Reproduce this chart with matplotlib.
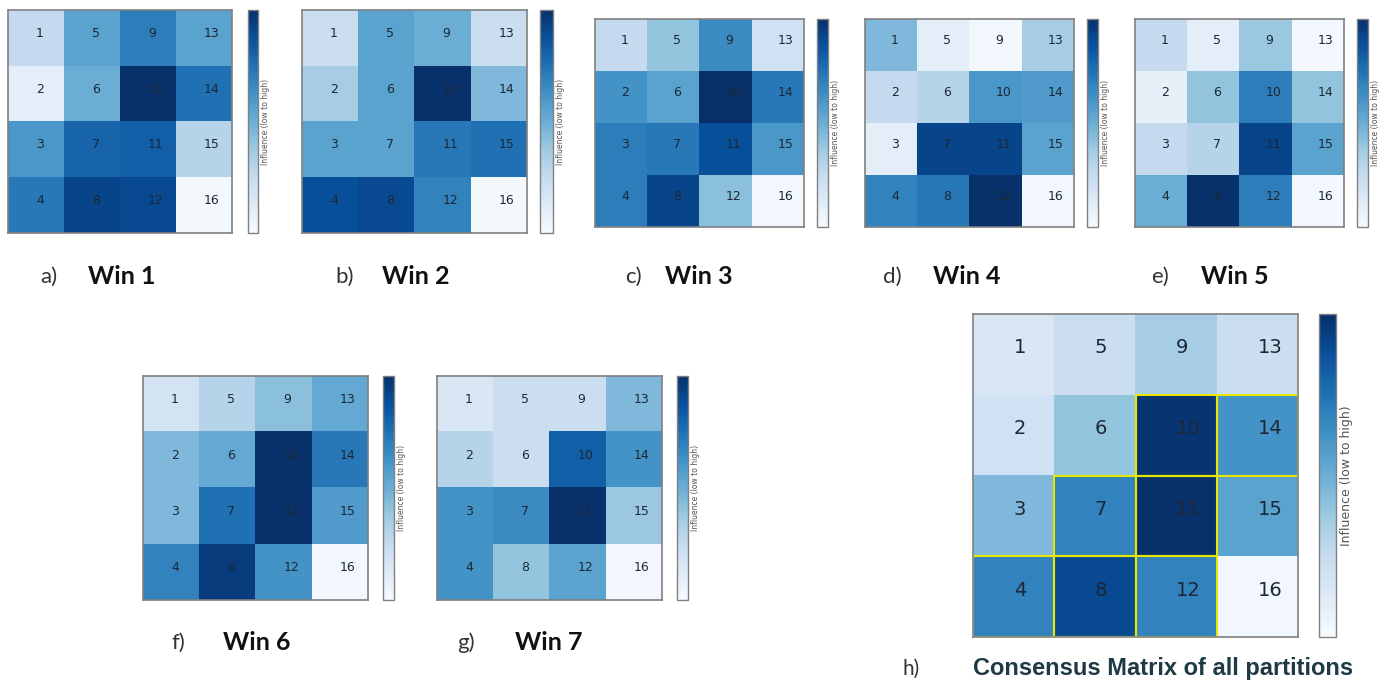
import numpy as np
import matplotlib
matplotlib.use("Agg")
import matplotlib.pyplot as plt
from matplotlib.patches import Rectangle

# cell labels: column-major, 1..4 down the first column
cell_ids = np.arange(1, 17).reshape(4, 4, order="F")

# influence per cell, rows top->bottom, cols left->right
win1 = [[0.25, 0.55, 0.70, 0.55],
        [0.10, 0.50, 1.00, 0.75],
        [0.60, 0.80, 0.82, 0.30],
        [0.72, 0.92, 0.90, 0.02]]
win2 = [[0.22, 0.55, 0.50, 0.22],
        [0.35, 0.55, 1.00, 0.45],
        [0.55, 0.55, 0.72, 0.75],
        [0.88, 0.90, 0.68, 0.02]]
win3 = [[0.25, 0.40, 0.65, 0.20],
        [0.62, 0.55, 1.00, 0.72],
        [0.70, 0.72, 0.88, 0.60],
        [0.70, 0.92, 0.42, 0.03]]
win4 = [[0.45, 0.10, 0.03, 0.35],
        [0.25, 0.30, 0.60, 0.58],
        [0.10, 0.92, 0.92, 0.55],
        [0.68, 0.72, 1.00, 0.03]]
win5 = [[0.25, 0.10, 0.38, 0.03],
        [0.08, 0.40, 0.70, 0.40],
        [0.25, 0.30, 0.92, 0.55],
        [0.50, 1.00, 0.70, 0.03]]
win6 = [[0.18, 0.30, 0.42, 0.52],
        [0.45, 0.52, 1.00, 0.72],
        [0.45, 0.75, 1.00, 0.58],
        [0.68, 0.95, 0.62, 0.03]]
win7 = [[0.15, 0.22, 0.22, 0.45],
        [0.30, 0.22, 0.82, 0.62],
        [0.62, 0.65, 1.00, 0.38],
        [0.62, 0.40, 0.55, 0.03]]
consensus = [[0.15, 0.22, 0.35, 0.22],
             [0.20, 0.40, 0.98, 0.62],
             [0.45, 0.68, 1.00, 0.55],
             [0.68, 0.90, 0.68, 0.03]]
highlight = [4, 7, 8, 10, 11, 12, 14]

letters = ["a)", "b)", "c)", "d)", "e)", "f)", "g)", "h)"]
titles = ["Win 1", "Win 2", "Win 3", "Win 4", "Win 5", "Win 6", "Win 7",
          "Consensus Matrix of all partitions"]
matrices = [win1, win2, win3, win4, win5, win6, win7, consensus]

W, H = 1386, 687
fig = plt.figure(figsize=(W / 100, H / 100), dpi=100)


def px_axes(l, t, r, b):
    return fig.add_axes([l / W, 1 - b / H, (r - l) / W, (b - t) / H])


# pixel boxes: heatmap (l, t, r, b), colorbar (l, r), letter x, title x, label y
layout = [
    ((8, 10, 232, 233), (248, 258), 40, 88, 277),
    ((302, 10, 527, 233), (540, 553), 335, 382, 277),
    ((595, 19, 804, 227), (817, 828), 625, 665, 277),
    ((865, 19, 1074, 227), (1087, 1098), 883, 933, 277),
    ((1135, 19, 1344, 227), (1357, 1368), 1151, 1201, 277),
    ((143, 376, 368, 600), (383, 394), 172, 223, 643),
    ((437, 376, 662, 600), (677, 688), 457, 515, 643),
    ((973, 314, 1298, 637), (1319, 1336), 903, 973, 669),
]

for i, (mat, (box, cbx, lx, tx, ty)) in enumerate(zip(matrices, layout)):
    big = i == 7
    ax = px_axes(*box)
    im = ax.imshow(np.array(mat), cmap="Blues", vmin=0, vmax=1,
                   aspect="auto", interpolation="nearest")
    ax.set_xticks([])
    ax.set_yticks([])
    for s in ax.spines.values():
        s.set_color("#808080")
        s.set_linewidth(1.2)
    for r in range(4):
        for c in range(4):
            ax.text(c + 0.0, r - 0.08, str(cell_ids[r, c]), ha="left",
                    va="center", fontsize=14 if big else 9, color="#1c2836")
    if big:
        for r in range(4):
            for c in range(4):
                if cell_ids[r, c] in highlight:
                    ax.add_patch(Rectangle((c - 0.5, r - 0.5), 1, 1, fill=False,
                                           edgecolor="#e6e600", linewidth=1.5))
    cax = px_axes(cbx[0], box[1], cbx[1], box[3])
    cb = fig.colorbar(im, cax=cax)
    cb.set_ticks([])
    cb.outline.set_edgecolor("#808080")
    cb.outline.set_linewidth(1)
    cb.set_label("Influence (low to high)", fontsize=9 if big else 5.5,
                 color="#555555", labelpad=3 if big else 2)

    if big:
        fig.text(lx / W, 1 - ty / H, letters[i], fontsize=15, family="Lato",
                 color="#333333", va="center", ha="left")
        fig.text(tx / W, 1 - ty / H, titles[i], fontsize=17, fontweight="bold",
                 family="Liberation Sans", color="#1e3a45", va="center", ha="left")
    else:
        fig.text(lx / W, 1 - ty / H, letters[i], fontsize=16, family="Lato",
                 color="#333333", va="center", ha="left")
        fig.text(tx / W, 1 - ty / H, titles[i], fontsize=18, fontweight="bold",
                 family="Lato", color="#111111", va="center", ha="left")

fig.savefig("out.png", dpi=100)
